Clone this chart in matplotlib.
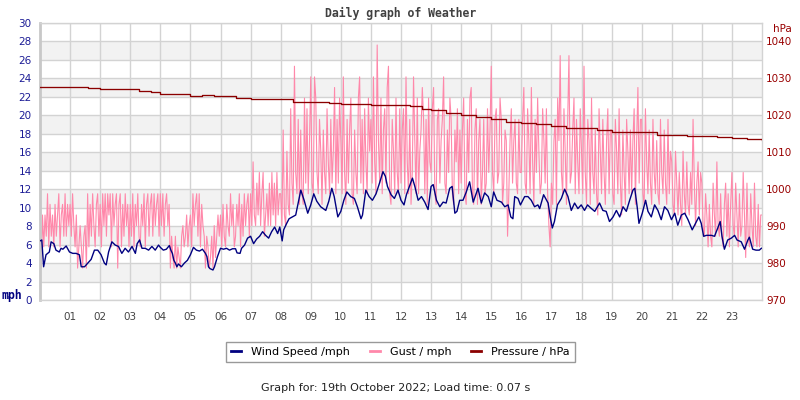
import numpy as np
import matplotlib
matplotlib.use("Agg")
import matplotlib.pyplot as plt
from matplotlib.lines import Line2D

# ---------------- data ----------------
hour_ticks = list(range(1, 24))
hour_labels = ["%02d" % h for h in hour_ticks]
mph_ticks = list(range(0, 31, 2))
hpa_ticks = list(range(970, 1041, 10))

wind_hours = [0.0, 0.06, 0.12, 0.2, 0.31, 0.37, 0.46, 0.53, 0.64, 0.7, 0.76, 0.87, 0.98, 1.09, 1.2, 1.31,
              1.37, 1.48, 1.59, 1.7, 1.81, 1.92, 2.03, 2.14, 2.2, 2.28, 2.39, 2.5, 2.61, 2.72, 2.83, 2.94,
              3.06, 3.17, 3.23, 3.31, 3.39, 3.5, 3.61, 3.72, 3.83, 3.94, 4.0, 4.1, 4.2, 4.3, 4.35, 4.4,
              4.45, 4.5, 4.55, 4.6, 4.7, 4.8, 4.9, 5.0, 5.1, 5.2, 5.3, 5.4, 5.5, 5.55, 5.6, 5.65, 5.75,
              5.8, 5.9, 6.0, 6.1, 6.2, 6.3, 6.4, 6.5, 6.55, 6.65, 6.7, 6.8, 6.9, 7.0, 7.05, 7.1, 7.2,
              7.3, 7.4, 7.5, 7.6, 7.7, 7.8, 7.9, 7.97, 8.05, 8.1, 8.2, 8.28, 8.5, 8.67, 8.78, 8.9, 9.0,
              9.1, 9.2, 9.33, 9.5, 9.6, 9.7, 9.78, 9.9, 10.0, 10.1, 10.2, 10.33, 10.45, 10.55, 10.67,
              10.72, 10.83, 10.94, 11.05, 11.17, 11.28, 11.4, 11.48, 11.55, 11.67, 11.78, 11.9, 12.0,
              12.1, 12.18, 12.3, 12.38, 12.46, 12.57, 12.68, 12.79, 12.9, 13.0, 13.07, 13.18, 13.29,
              13.4, 13.5, 13.62, 13.7, 13.79, 13.86, 13.95, 14.06, 14.17, 14.28, 14.4, 14.56, 14.67,
              14.78, 14.9, 15.0, 15.08, 15.19, 15.34, 15.45, 15.56, 15.65, 15.72, 15.78, 15.89, 15.97,
              16.11, 16.22, 16.33, 16.44, 16.55, 16.61, 16.74, 16.89, 16.96, 17.03, 17.1, 17.2, 17.33,
              17.44, 17.55, 17.66, 17.77, 17.88, 17.99, 18.1, 18.2, 18.33, 18.44, 18.6, 18.71, 18.82,
              18.93, 19.05, 19.16, 19.27, 19.38, 19.49, 19.6, 19.71, 19.77, 19.85, 19.91, 20.02, 20.13,
              20.21, 20.32, 20.43, 20.54, 20.65, 20.76, 20.87, 20.99, 21.1, 21.2, 21.32, 21.43, 21.54,
              21.68, 21.82, 21.9, 21.98, 22.06, 22.15, 22.32, 22.42, 22.53, 22.61, 22.67, 22.75, 22.86,
              22.98, 23.09, 23.17, 23.31, 23.42, 23.53, 23.58, 23.69, 23.8, 23.91, 23.98]
wind_mph = [6.4, 6.5, 3.6, 4.9, 5.2, 6.3, 6.1, 5.4, 5.2, 5.6, 5.5, 5.85, 5.2, 5.05, 5.05, 4.9,
            3.6, 3.6, 4.0, 4.4, 5.4, 5.4, 4.9, 4.0, 3.8, 5.2, 6.3, 5.95, 5.8, 5.05, 5.6, 5.2,
            5.8, 5.05, 6.1, 6.5, 5.6, 5.6, 5.4, 5.8, 5.4, 5.95, 5.7, 5.4, 5.5, 5.9, 5.4, 5.05,
            4.3, 4.0, 3.6, 3.9, 3.6, 4.0, 4.3, 4.9, 5.7, 5.4, 5.3, 5.5, 5.05, 4.7, 3.6, 3.4, 3.25,
            3.6, 4.7, 5.6, 5.5, 5.6, 5.4, 5.55, 5.55, 5.1, 5.05, 5.6, 5.95, 6.7, 6.9, 6.5, 6.1, 6.6,
            6.9, 7.4, 7.0, 6.7, 7.4, 7.9, 7.2, 7.9, 6.4, 7.6, 8.3, 8.8, 9.2, 11.9, 10.8, 9.4, 10.3,
            11.5, 10.7, 10.1, 9.7, 10.7, 12.1, 11.2, 9.0, 9.6, 10.8, 11.7, 11.2, 11.0, 10.1, 8.8,
            9.2, 11.9, 11.2, 10.8, 11.5, 12.6, 13.9, 13.4, 12.3, 11.4, 11.0, 11.9, 10.8,
            10.3, 11.4, 12.5, 13.2, 12.3, 10.8, 11.2, 10.6, 9.8, 12.3, 12.5, 10.8, 10.1,
            10.6, 10.5, 12.1, 12.3, 9.4, 9.6, 10.8, 10.8, 11.7, 12.8, 10.6, 12.1, 10.5,
            11.6, 11.2, 10.1, 11.7, 10.8, 10.6, 10.1, 10.3, 9.0, 8.8, 11.2, 11.0, 10.3,
            11.2, 11.2, 10.8, 10.1, 10.3, 9.9, 11.4, 10.5, 9.0, 7.8, 8.5, 10.3, 11.0,
            12.0, 11.2, 9.7, 10.5, 9.9, 10.3, 9.7, 10.3, 9.9, 9.6, 10.5, 9.7, 9.6,
            8.5, 9.0, 9.7, 9.0, 10.1, 9.6, 10.8, 11.9, 12.1, 10.1, 8.3, 9.4, 10.8,
            9.6, 9.0, 10.3, 9.7, 8.7, 10.1, 9.7, 8.7, 9.4, 8.1, 9.2, 9.4, 8.7,
            7.6, 8.5, 9.0, 8.3, 6.9, 7.0, 7.0, 6.9, 7.8, 8.5, 6.9, 5.5, 6.5,
            6.7, 7.0, 6.5, 6.3, 5.5, 6.5, 6.8, 5.5, 5.4, 5.4, 5.6]

# gust readings in knots (one every 2.5 minutes, 24 per hour), converted to mph below
gust_knots = [
    8, 3, 8, 5, 8, 6, 10, 5, 9, 6, 8, 5, 9, 6, 8, 10, 5, 8, 9, 6, 10, 6, 9, 7,
    9, 6, 10, 7, 5, 8, 3, 5, 7, 5, 3, 6, 7, 3, 10, 5, 9, 6, 10, 7, 5, 9, 10, 6,
    9, 5, 10, 7, 10, 6, 10, 8, 10, 5, 10, 7, 9, 10, 3, 9, 10, 5, 9, 6, 10, 7, 9, 5,
    9, 6, 10, 5, 9, 7, 10, 6, 5, 9, 7, 10, 5, 9, 10, 6, 9, 10, 6, 10, 7, 9, 10, 6,
    10, 7, 10, 6, 9, 10, 7, 9, 3, 6, 4, 3, 6, 3, 5, 4, 3, 6, 7, 5, 6, 8, 5, 7,
    8, 5, 10, 7, 9, 10, 6, 10, 5, 9, 7, 6, 3, 6, 5, 3, 4, 6, 3, 7, 4, 6, 8, 6,
    8, 5, 9, 6, 5, 9, 7, 6, 10, 7, 9, 5, 6, 9, 7, 10, 5, 9, 6, 10, 7, 9, 10, 6,
    10, 7, 13, 8, 7, 11, 8, 12, 7, 10, 12, 6, 8, 10, 7, 11, 7, 12, 8, 11, 7, 12, 8, 10,
    10, 7, 16, 8, 7, 14, 9, 8, 18, 11, 9, 22, 12, 10, 17, 9, 16, 10, 9, 19, 11, 18, 10, 15,
    21, 11, 10, 21, 19, 12, 10, 17, 14, 9, 16, 12, 10, 18, 13, 10, 17, 11, 14, 20, 10, 17, 11, 19,
    15, 10, 21, 12, 9, 17, 11, 16, 19, 10, 9, 16, 12, 10, 19, 21, 11, 17, 10, 18, 13, 10, 19, 14,
    17, 11, 21, 13, 10, 24, 15, 11, 19, 10, 16, 18, 11, 20, 22, 10, 9, 17, 14, 10, 19, 12, 10, 18,
    11, 16, 18, 10, 21, 13, 10, 17, 9, 12, 21, 15, 10, 19, 10, 14, 16, 20, 17, 10, 17, 9, 19, 13,
    12, 18, 20, 10, 9, 17, 18, 11, 15, 17, 21, 11, 10, 16, 12, 19, 17, 10, 9, 16, 13, 18, 10, 16,
    11, 16, 19, 10, 9, 17, 12, 19, 20, 10, 9, 16, 18, 9, 15, 17, 9, 12, 17, 10, 11, 18, 12, 16,
    22, 12, 10, 17, 18, 11, 12, 19, 17, 9, 11, 16, 15, 6, 10, 15, 18, 11, 15, 17, 11, 10, 17, 12,
    12, 17, 20, 11, 10, 18, 15, 10, 20, 13, 9, 17, 12, 19, 14, 10, 11, 18, 15, 11, 18, 10, 7, 5,
    11, 9, 15, 17, 9, 19, 15, 23, 12, 10, 18, 14, 9, 17, 23, 11, 12, 16, 19, 10, 17, 13, 10, 18,
    14, 10, 22, 12, 9, 17, 15, 9, 19, 12, 10, 16, 10, 8, 18, 14, 10, 17, 12, 9, 15, 18, 10, 16,
    16, 10, 9, 17, 14, 10, 18, 11, 8, 16, 12, 9, 17, 14, 10, 16, 10, 15, 18, 9, 15, 20, 11, 17,
    17, 10, 9, 18, 13, 10, 16, 11, 9, 17, 12, 10, 15, 10, 9, 17, 12, 10, 16, 11, 9, 17, 10, 14,
    13, 9, 8, 14, 11, 8, 12, 9, 7, 14, 10, 8, 13, 9, 8, 12, 9, 17, 11, 7, 11, 13, 8, 12,
    11, 7, 6, 10, 8, 5, 9, 6, 5, 11, 8, 6, 13, 7, 6, 10, 6, 5, 9, 11, 6, 10, 5, 9,
    12, 7, 6, 11, 8, 5, 10, 6, 7, 12, 8, 4, 11, 6, 5, 10, 7, 5, 11, 6, 5, 9, 5, 8,
    8]
gust_minutes_step = 2.5

pres_hours = [0.0, 1.0, 1.3, 1.6, 2.0, 3.0, 3.3, 3.7, 4.0, 4.5, 5.0, 5.4, 5.8, 6.5, 7.0, 8.0, 8.4,
              9.6, 10.0, 10.5, 11.0, 12.3, 12.7, 13.0, 13.5, 14.0, 14.5, 15.0, 15.5, 16.0, 16.5,
              17.0, 17.5, 18.0, 18.5, 19.0, 19.5, 20.0, 20.5, 21.0, 21.5, 22.0, 22.5, 23.0, 23.5, 24.0]
pres_hpa = [1027.7, 1027.8, 1027.7, 1027.4, 1027.1, 1027.0, 1026.6, 1026.3, 1025.8, 1025.7, 1025.3,
            1025.4, 1025.1, 1024.6, 1024.5, 1024.3, 1023.7, 1023.3, 1023.2, 1023.1, 1022.8, 1022.5,
            1021.7, 1021.5, 1020.6, 1020.2, 1019.5, 1019.0, 1018.3, 1017.9, 1017.7, 1017.2, 1016.6,
            1016.5, 1015.9, 1015.6, 1015.5, 1015.4, 1014.8, 1014.7, 1014.4, 1014.3, 1014.1, 1013.9,
            1013.7, 1013.4]

# ---------------- styling ----------------
C_WIND = "#000080"
C_GUST = "#ff88aa"
C_PRES = "#8b0000"
C_GRID = "#d3d3d3"
C_BAND = "#f2f2f2"

gust_hours = np.arange(len(gust_knots)) * gust_minutes_step / 60.0
gust_mph = np.array(gust_knots) * 1.1508

fig = plt.figure(figsize=(8, 4), dpi=100)
fig.patch.set_facecolor("white")
ax = fig.add_axes([0.05, 0.25, 0.9025, 0.6925])
ax.set_xlim(0, 24)
ax.set_ylim(0, 30)
for y0 in range(2, 30, 4):
    ax.axhspan(y0, y0 + 2, color=C_BAND, lw=0, zorder=0)
ax.set_yticks(mph_ticks)
ax.set_xticks(hour_ticks)
ax.set_xticklabels(hour_labels)
ax.grid(True, color=C_GRID, lw=1.0, zorder=0.5)
ax.set_axisbelow(True)
ax.tick_params(axis="both", length=0)
ax.tick_params(axis="y", labelsize=7.5, labelcolor="#1c1c96", pad=6)
ax.tick_params(axis="x", labelsize=7.5, labelcolor="#444444", pad=9)
for s in ["top", "bottom", "right"]:
    ax.spines[s].set_color(C_GRID)
    ax.spines[s].set_linewidth(1.0)
ax.spines["left"].set_color("#c8c8c8")
ax.spines["left"].set_linewidth(2.0)

ax.plot(gust_hours, gust_mph, color=C_GUST, lw=0.8, zorder=2)
ax.plot(wind_hours, wind_mph, color=C_WIND, lw=1.0, zorder=3)

ax2 = ax.twinx()
ax2.set_ylim(970, 1045)
ax2.set_yticks(hpa_ticks)
ax2.tick_params(axis="y", length=0, labelsize=7.5, labelcolor="#990000", pad=3)
for s in ax2.spines.values():
    s.set_visible(False)
ax2.plot(pres_hours, pres_hpa, color=C_PRES, lw=0.95, drawstyle="steps-post", zorder=4)

fig.text(0.5004, 1 - 13 / 400, "Daily graph of Weather", family="DejaVu Sans Mono",
         weight="bold", size=8.3, color="#404040", ha="center", va="center")
fig.text(12 / 800, 1 - 296 / 400, "mph", family="DejaVu Sans Mono", weight="bold",
         size=8.3, color=C_WIND, ha="center", va="center")
fig.text(782 / 800, 1 - 29 / 400, "hPa", size=7.5, color="#990000", ha="center", va="center")

handles = [Line2D([], [], color=C_WIND, lw=2),
           Line2D([], [], color=C_GUST, lw=2),
           Line2D([], [], color=C_PRES, lw=2)]
labels = ["Wind Speed /mph", "Gust / mph", "Pressure / hPa"]
leg = fig.legend(handles, labels, loc="center", bbox_to_anchor=(400.5 / 800, 1 - 352 / 400),
                 ncol=3, frameon=True, fancybox=False, edgecolor="#808080", fontsize=8,
                 handlelength=0.9, handletextpad=0.9, columnspacing=1.8, borderpad=0.45)
leg.get_frame().set_linewidth(1.0)

fig.text(396 / 800, 1 - 388 / 400, "Graph for: 19th October 2022; Load time: 0.07 s",
         size=8, color="#222222", ha="center", va="center")

fig.savefig("out.png", dpi=100)
